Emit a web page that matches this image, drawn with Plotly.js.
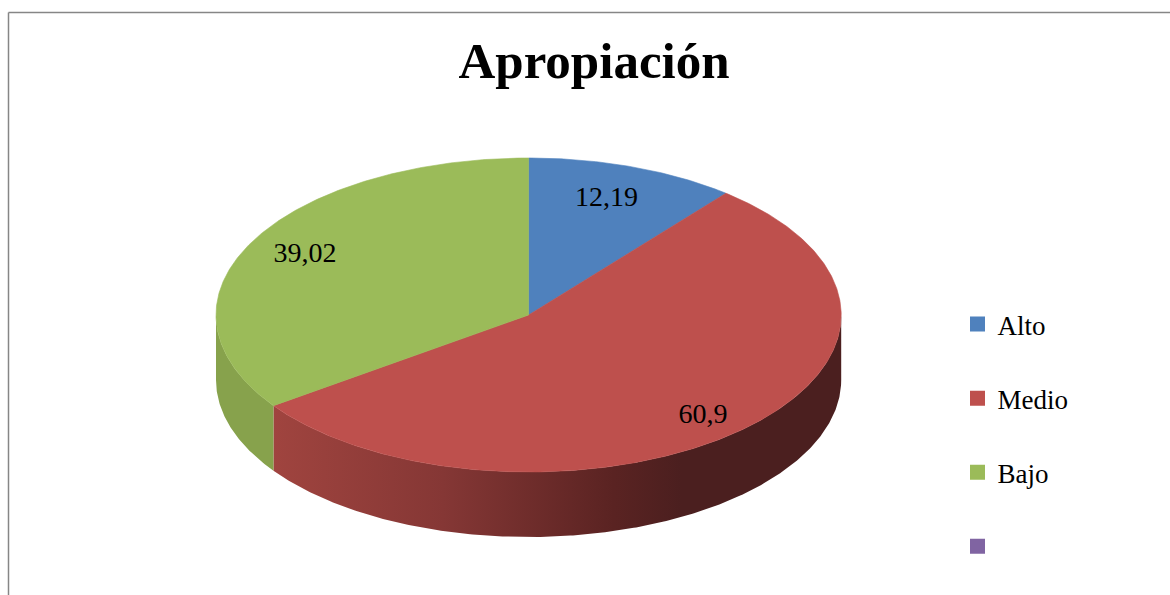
<!DOCTYPE html>
<html>
<head>
<meta charset="utf-8">
<script src="https://cdn.plot.ly/plotly-3.0.1.min.js"></script>
<style>html,body{margin:0;padding:0;background:#fff;overflow:hidden}</style>
</head>
<body>
<div id="chart" style="width:1170px;height:595px"></div>
<script>
// Data
const categories = ['Alto', 'Medio', 'Bajo', ' '];
const values = [12.19, 60.9, 39.02, null];
const valueLabels = ['12,19', '60,9', '39,02'];
const chartTitle = 'Apropiación';

// Styling
const topColors = ['#4F81BD', '#BE504D', '#9BBB59', '#8064A2'];
const wallFill = {
  1: {fillgradient: {type: 'horizontal', start: 273, stop: 841,
      colorscale: [[0, '#A0443F'], [0.3, '#853735'], [0.6, '#5A2322'], [0.72, '#4B1F1F'], [1, '#4B1F1F']]}},
  2: {fillcolor: '#87A24C'}
};
const FONT = '"Liberation Serif", serif';
const CX = 528.6, CY = 315, RX = 312.6, RY = 157, DEPTH = 65;
const LABEL_DY = 2;
const labelRadius = [0.79, 0.842, 0.817];
const labelTurn = [-1.2, 1.6, 1.5];

// Clock angle (deg, 0 = top, clockwise) to plot coordinates
const px = a => CX + RX * Math.sin(a * Math.PI / 180);
const py = a => CY - RY * Math.cos(a * Math.PI / 180);
const arc = (a0, a1) => {
  const n = Math.max(2, Math.ceil(Math.abs(a1 - a0) * 2));
  return Array.from({length: n + 1}, (_, i) => a0 + (a1 - a0) * i / n);
};

const total = values.reduce((s, v) => s + (v || 0), 0);
let acc = 0;
const slices = values.map(v => {
  const s = {a0: acc / total * 360, a1: (acc + (v || 0)) / total * 360};
  acc += v || 0;
  return s;
});

const traces = [];

// Side walls (only the part facing the viewer)
slices.forEach((s, i) => {
  const a0 = Math.max(s.a0, 90), a1 = Math.min(s.a1, 270);
  if (!(a1 > a0)) return;
  const top = arc(a0, a1), bot = arc(a1, a0);
  traces.push(Object.assign({
    type: 'scatter', mode: 'lines', fill: 'toself',
    x: top.map(px).concat(bot.map(px)),
    y: top.map(py).concat(bot.map(a => py(a) + DEPTH)),
    line: {width: 0}, hoverinfo: 'skip', showlegend: false
  }, wallFill[i]));
});

// Top faces
slices.forEach((s, i) => {
  if (!(s.a1 > s.a0)) return;
  const a = arc(s.a0, s.a1);
  traces.push({
    type: 'scatter', mode: 'lines', fill: 'toself',
    x: [CX].concat(a.map(px), [CX]),
    y: [CY].concat(a.map(py), [CY]),
    fillcolor: topColors[i], line: {width: 0.6, color: topColors[i]},
    name: categories[i], hoverinfo: 'skip', showlegend: false
  });
});

// Value labels
const labelAngles = slices.slice(0, 3).map((s, i) => (s.a0 + s.a1) / 2 + labelTurn[i]);
traces.push({
  type: 'scatter', mode: 'text',
  x: labelAngles.map((a, i) => CX + (px(a) - CX) * labelRadius[i]),
  y: labelAngles.map((a, i) => CY + (py(a) - CY) * labelRadius[i] + LABEL_DY),
  text: valueLabels, textposition: 'middle center',
  textfont: {family: FONT, size: 28, color: '#000'},
  hoverinfo: 'skip', showlegend: false
});

// Legend entries
categories.forEach((c, i) => {
  traces.push({
    type: 'scatter', mode: 'markers', x: [null], y: [null],
    name: c, legendgroup: 'g' + i,
    marker: {symbol: 'square', size: 15, color: topColors[i]},
    hoverinfo: 'skip', showlegend: true
  });
});

const layout = {
  width: 1170, height: 595,
  margin: {l: 0, r: 0, t: 0, b: 0},
  paper_bgcolor: '#fff', plot_bgcolor: '#fff',
  showlegend: true,
  title: {text: '<b>' + chartTitle + '</b>', font: {family: FONT, size: 51, color: '#000'},
    x: 594 / 1170, xanchor: 'center', xref: 'paper', y: 1 - 78 / 595, yanchor: 'bottom', yref: 'container', pad: {t: 0, b: 0}},
  xaxis: {range: [0, 1170], visible: false, fixedrange: true},
  yaxis: {range: [595, 0], visible: false, fixedrange: true},
  legend: {
    x: 957.5 / 1170, xanchor: 'left', y: 1 - 300 / 595, yanchor: 'top',
    font: {family: FONT, size: 27, color: '#000'},
    tracegroupgap: 36, traceorder: 'grouped', bgcolor: 'rgba(0,0,0,0)', borderwidth: 0
  },
  shapes: [
    {type: 'line', xref: 'x', yref: 'y', x0: 8.5, x1: 8.5, y0: 12.5, y1: 595, line: {color: '#868686', width: 1.5}},
    {type: 'line', xref: 'x', yref: 'y', x0: 8.5, x1: 1170, y0: 12.5, y1: 12.5, line: {color: '#868686', width: 1.5}}
  ]
};

Plotly.newPlot('chart', traces, layout, {displayModeBar: false, staticPlot: true});
</script>
</body>
</html>
